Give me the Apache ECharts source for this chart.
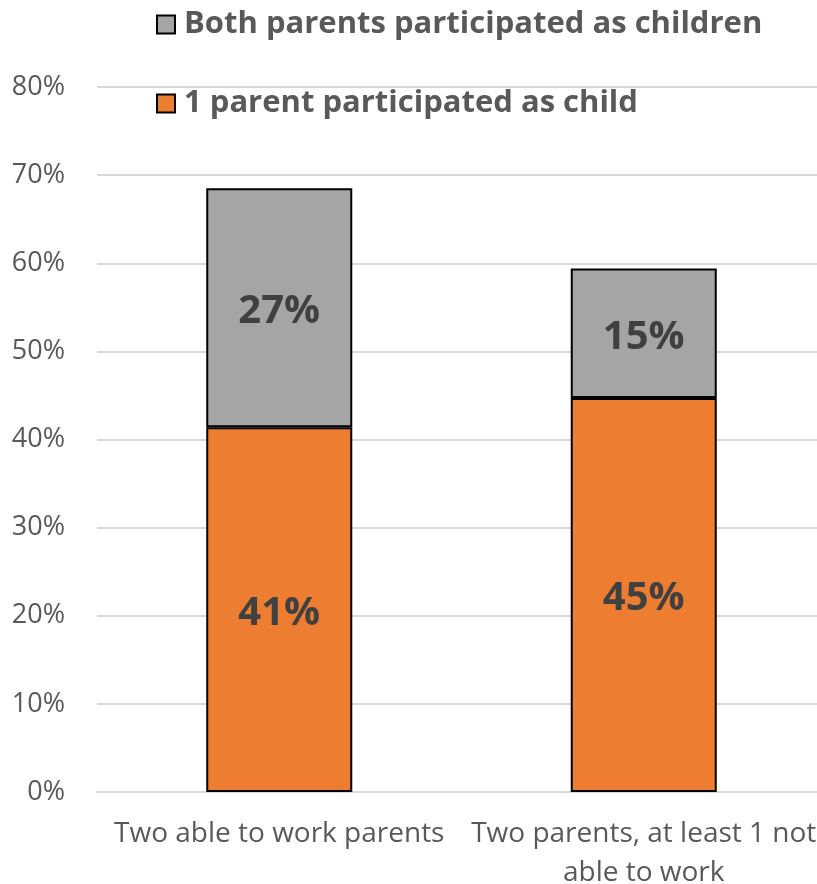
<!DOCTYPE html>
<html>
<head>
<meta charset="utf-8">
<style>
  html, body { margin: 0; padding: 0; background: #fff; }
  #myChart { width: 817px; height: 884px; }
</style>
<script src="https://cdn.jsdelivr.net/npm/echarts@6/dist/echarts.min.js"></script>
</head>
<body>
<div id="myChart"></div>
<script>
// categories and values
var categories = ['Two able to work parents', 'Two parents, at least 1 not\nable to work']
var oneParent = [41.4, 44.7]
var bothParents = [27.1, 14.7]
var yTicks = [0, 10, 20, 30, 40, 50, 60, 70, 80]

var textColor = '#595959'
var fontFamily = '"Open Sans", "Liberation Sans", sans-serif'

var myChart = echarts.init(document.getElementById('myChart'))
myChart.setOption({
  animation: false,
  textStyle: { fontFamily: fontFamily },
  legend: {
    orient: 'vertical',
    left: 151,
    top: 4,
    itemGap: 48,
    itemWidth: 18,
    itemHeight: 18,
    icon: 'rect',
    data: ['Both parents participated as children', '1 parent participated as child'],
    textStyle: {
      fontSize: 31,
      fontWeight: 'bold',
      color: textColor,
      fontFamily: fontFamily,
      padding: [0, 0, 0, 4],
    },
  },
  grid: {
    left: 97,
    right: -9,
    top: 87,
    bottom: 92,
    outerBoundsMode: 'none',
  },
  xAxis: {
    type: 'category',
    data: categories,
    axisTick: { show: false },
    axisLine: { lineStyle: { color: '#d9d9d9', width: 2 } },
    axisLabel: {
      fontSize: 28,
      color: textColor,
      margin: 23,
      lineHeight: 39,
      interval: 0,
    },
  },
  yAxis: {
    type: 'value',
    min: yTicks[0],
    max: yTicks[yTicks.length - 1],
    interval: 10,
    axisLine: { show: false },
    axisTick: { show: false },
    splitLine: { lineStyle: { color: '#d9d9d9', width: 2 } },
    axisLabel: {
      fontSize: 27,
      color: textColor,
      margin: 32,
      formatter: '{value}%',
    },
  },
  series: [
    {
      name: '1 parent participated as child',
      type: 'bar',
      stack: 'total',
      barWidth: 146,
      data: oneParent,
      itemStyle: { color: '#ED7D31', borderColor: '#000', borderWidth: 2 },
      label: {
        show: true,
        position: 'inside',
        offset: [0, 4],
        fontSize: 40,
        fontWeight: 'bold',
        color: '#404040',
        formatter: function (p) { return Math.round(p.value) + '%' },
      },
    },
    {
      name: 'Both parents participated as children',
      type: 'bar',
      stack: 'total',
      barWidth: 146,
      data: bothParents,
      itemStyle: { color: '#A5A5A5', borderColor: '#000', borderWidth: 2 },
      label: {
        show: true,
        position: 'inside',
        offset: [0, 4],
        fontSize: 40,
        fontWeight: 'bold',
        color: '#404040',
        formatter: function (p) { return Math.round(p.value) + '%' },
      },
    },
  ],
})
</script>
</body>
</html>
